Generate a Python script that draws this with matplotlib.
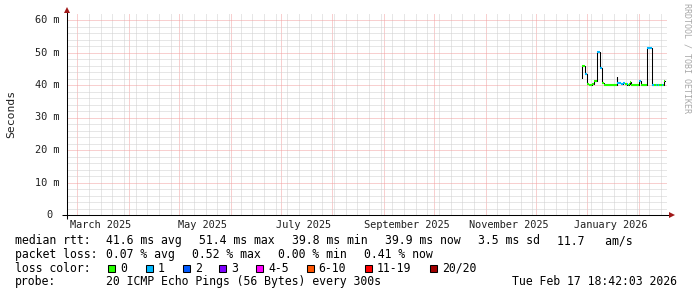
import matplotlib
matplotlib.use("Agg")
import matplotlib.pyplot as plt
import matplotlib.dates as mdates
import matplotlib.transforms as mtrans
from matplotlib.ticker import MultipleLocator
from matplotlib.patches import Rectangle
import numpy as np
from datetime import datetime, timedelta

W, H = 697, 297

# ---------------- data ----------------
graph_end = datetime(2026, 2, 17, 18, 42, 3)
graph_days = 360
data_start = datetime(2025, 12, 28, 12, 0)
step_hours = 12

median_ms = [
    42.3, 45.8, 45.8, 45.8, 43.3, 43.3, 40.2, 40.2, 40.2, 39.9,
    39.9, 39.9, 40.2, 40.2, 40.2, 41.3, 41.3, 41.3, 44.1, 50.3,
    50.3, 50.3, 45.3, 45.3, 40.5, 40.5, 40.5, 39.9, 39.9, 39.9,
    39.9, 39.9, 39.9, 39.9, 39.9, 39.9, 39.9, 39.9, 39.9, 39.9,
    39.9, 39.9, 42.4, 40.7, 40.7, 40.7, 40.7, 40.2, 40.2, 40.2,
    40.7, 40.7, 40.2, 40.2, 39.9, 40.2, 39.9, 40.2, 40.8, 39.9,
    39.9, 39.9, 39.9, 39.9, 39.9, 39.9, 39.9, 39.9, 39.9, 41.3,
    41.3, 39.9, 39.9, 39.9, 39.9, 39.9, 39.9, 39.9, 48.4, 51.4,
    51.4, 51.4, 51.4, 51.4, 45.8, 39.9, 39.9, 39.9, 39.9, 39.9,
    39.9, 39.9, 39.9, 39.9, 39.9, 39.9, 39.9, 39.9, 39.9, 41.2,
]
loss_level = [
    1, 0, 0, 0, 1, 1, 0, 0, 0, 0,
    0, 0, 0, 0, 0, 0, 0, 0, 0, 1,
    1, 1, 1, 1, 0, 0, 0, 0, 0, 0,
    0, 0, 0, 0, 0, 0, 0, 0, 0, 0,
    0, 0, 1, 1, 1, 1, 1, 1, 0, 1,
    1, 1, 0, 0, 0, 1, 0, 0, 0, 0,
    0, 0, 0, 0, 0, 0, 0, 0, 0, 1,
    1, 0, 0, 0, 0, 0, 0, 0, 0, 1,
    1, 1, 1, 1, 0, 1, 1, 0, 0, 1,
    0, 0, 1, 0, 0, 0, 1, 1, 0, 0,
]

loss_labels = ["0", "1", "2", "3", "4-5", "6-10", "11-19", "20/20"]
loss_colors = ["#26ff00", "#00b8ff", "#0059ff", "#7e00ff",
               "#ff00ff", "#ff5500", "#ff0000", "#a00000"]

month_label_dates = [datetime(2025, 3, 1), datetime(2025, 5, 1), datetime(2025, 7, 1),
                     datetime(2025, 9, 1), datetime(2025, 11, 1), datetime(2026, 1, 1)]
month_labels = ["March 2025", "May 2025", "July 2025",
                "September 2025", "November 2025", "January 2026"]

y_ticks = [0, 10, 20, 30, 40, 50, 60]
y_labels = ["0", "10 m", "20 m", "30 m", "40 m", "50 m", "60 m"]

stats_rtt = ["median rtt:", "41.6 ms avg", "51.4 ms max", "39.8 ms min",
             "39.9 ms now", "3.5 ms sd", "11.7   am/s"]
stats_loss = ["packet loss:", "0.07 % avg", "0.52 % max", "0.00 % min", "0.41 % now"]
probe_text = "20 ICMP Echo Pings (56 Bytes) every 300s"
stamp_text = "Tue Feb 17 18:42:03 2026"

# ---------------- figure ----------------
MONO = "DejaVu Sans Mono"
fig = plt.figure(figsize=(W / 100, H / 100), dpi=100)
fig.patch.set_facecolor("white")

pl, pt, pw, ph = 67, 14, 600, 201
ax = fig.add_axes([pl / W, (H - pt - ph) / H, pw / W, ph / H])
ax.set_facecolor("white")

graph_start = graph_end - timedelta(days=graph_days)
ax.set_xlim(graph_start, graph_end)
ax.set_ylim(0, ph / 3.25)

for s in ax.spines.values():
    s.set_visible(False)

# grid
ax.xaxis.set_major_locator(mdates.MonthLocator())
ax.xaxis.set_minor_locator(mdates.WeekdayLocator(byweekday=mdates.SA))
ax.yaxis.set_major_locator(MultipleLocator(10))
ax.yaxis.set_minor_locator(MultipleLocator(2))
ax.grid(which="minor", color="#cfcfcf", linestyle=(0, (1, 1)), linewidth=0.72)
ax.grid(which="major", color="#f2a0a0", linestyle=(0, (1, 1)), linewidth=0.72)
ax.tick_params(which="both", length=0, labelbottom=False, labelleft=False)
ax.set_axisbelow(True)

# data
t = [data_start + timedelta(hours=step_hours * i) for i in range(len(median_ms))]
t_edges = t + [t[-1] + timedelta(hours=step_hours)]
vals = np.array(median_ms)
ax.step(t_edges, np.append(vals, vals[-1]), where="post", color="black",
        linewidth=0.75, zorder=3)
ax.hlines(vals, t_edges[:-1], t_edges[1:],
          colors=[loss_colors[k] for k in loss_level],
          linewidth=1.5, zorder=4, capstyle="butt")

# axes lines with arrows
ax.plot([-5 / pw, 1.004], [0, 0], transform=ax.transAxes, color="black",
        linewidth=0.75, clip_on=False, zorder=5, solid_capstyle="butt")
ax.plot([0, 0], [-4 / ph, 1.01], transform=ax.transAxes, color="black",
        linewidth=0.75, clip_on=False, zorder=5, solid_capstyle="butt")
ax.plot([1.0075], [0], marker=">", markersize=4.2, color="#a01818",
        transform=ax.transAxes, clip_on=False, zorder=6, markeredgewidth=0)
ax.plot([0], [1.022], marker="^", markersize=4.2, color="#a01818",
        transform=ax.transAxes, clip_on=False, zorder=6, markeredgewidth=0)

# y labels
ylab_tr = mtrans.blended_transform_factory(ax.transAxes, ax.transData)
for v, lab in zip(y_ticks, y_labels):
    xoff = -7.6 / pw if lab != "0" else -14.6 / pw
    ax.text(xoff, v, lab, transform=ylab_tr, ha="right", va="center",
            fontsize=7.4, family=MONO, color="#202020")

# x labels (centered half a month after the month start)
xlab_tr = mtrans.blended_transform_factory(ax.transData, ax.transAxes)
for d, lab in zip(month_label_dates, month_labels):
    ax.text(d + timedelta(days=14), -4.5 / ph, lab, transform=xlab_tr,
            ha="center", va="top", fontsize=7.4, family=MONO, color="#202020")

# pixel transform (origin top-left)
pix = mtrans.Affine2D().scale(1, -1).translate(0, H)

fig.text(11, 114, "Seconds", transform=pix, rotation=90, ha="center", va="center",
         fontsize=8.2, family=MONO, color="#202020")
fig.text(687.5, 3, "RRDTOOL / TOBI OETIKER", transform=pix, rotation=270,
         ha="center", va="top", fontsize=6, family=MONO, color="#a8a8a8")

# legend lines
LFS = 8.3
rtt_x = [15, 106.3, 199.3, 292.3, 385.3, 478.3, 557.3]
for x, s in zip(rtt_x, stats_rtt):
    fig.text(x, 244, s, transform=pix, ha="left", va="baseline", fontsize=LFS, family=MONO)
loss_x = [15, 106.3, 192.3, 278.3, 364.3]
for x, s in zip(loss_x, stats_loss):
    fig.text(x, 257.7, s, transform=pix, ha="left", va="baseline", fontsize=LFS, family=MONO)

fig.text(15, 271.5, "loss color:", transform=pix, ha="left", va="baseline", fontsize=LFS, family=MONO)
box_x = [108.3, 145.7, 182.7, 219.3, 256, 306.7, 365, 430]
for x, lab, c in zip(box_x, loss_labels, loss_colors):
    fig.patches.append(Rectangle((x, 264.5), 7, 7, transform=pix, facecolor=c,
                                 edgecolor="black", linewidth=0.75, figure=fig))
    fig.text(x + 12, 271.5, lab, transform=pix, ha="left", va="baseline",
             fontsize=LFS, family=MONO)

fig.text(15, 285, "probe:", transform=pix, ha="left", va="baseline", fontsize=LFS, family=MONO)
fig.text(106.3, 285, probe_text, transform=pix, ha="left", va="baseline", fontsize=LFS, family=MONO)
fig.text(512.5, 285, stamp_text, transform=pix, ha="left", va="baseline", fontsize=LFS, family=MONO)

fig.savefig("out.png", dpi=100, facecolor="white")
